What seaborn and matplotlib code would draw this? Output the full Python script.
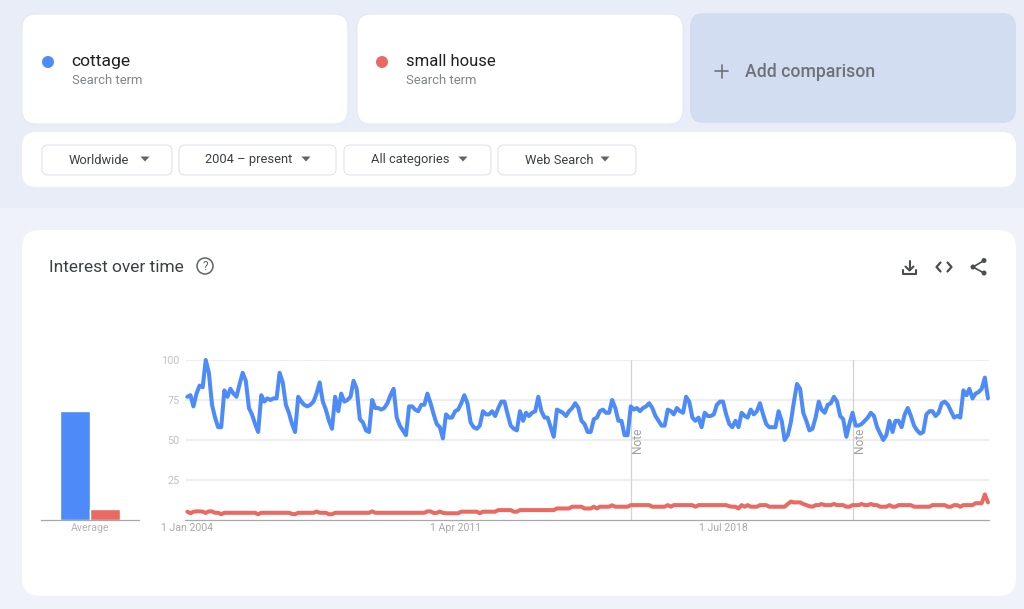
import numpy as np
import pandas as pd
import matplotlib.pyplot as plt
from matplotlib.patches import FancyBboxPatch, Circle, Polygon, Rectangle
import seaborn as sns

# valores, un renglon por año (2004 - sep 2025)
cottage = [
    77, 78, 71, 79, 84, 83, 100, 92, 72, 64, 58, 58,
    81, 77, 82, 79, 77, 85, 92, 87, 70, 66, 60, 55,
    78, 74, 76, 75, 76, 76, 92, 86, 72, 67, 60, 55,
    77, 74, 72, 71, 72, 74, 79, 86, 74, 69, 62, 57,
    77, 68, 79, 74, 75, 77, 87, 82, 63, 61, 56, 55,
    75, 70, 70, 69, 70, 73, 78, 82, 64, 59, 56, 53,
    71, 71, 69, 68, 72, 72, 79, 73, 66, 60, 58, 51,
    66, 64, 64, 68, 69, 73, 78, 73, 61, 58, 57, 59,
    68, 66, 66, 68, 65, 70, 74, 74, 66, 59, 57, 56,
    68, 62, 67, 65, 67, 68, 77, 68, 64, 64, 58, 52,
    69, 68, 67, 65, 68, 70, 73, 70, 62, 60, 55, 55,
    63, 64, 68, 69, 67, 67, 75, 70, 62, 62, 53, 53,
    71, 69, 70, 68, 70, 71, 73, 70, 65, 62, 59, 59,
    69, 68, 66, 70, 68, 67, 77, 74, 64, 62, 64, 58,
    67, 65, 65, 66, 72, 74, 74, 66, 60, 58, 62, 58,
    67, 65, 64, 69, 66, 68, 73, 66, 60, 58, 58, 58,
    68, 62, 50, 53, 61, 74, 85, 82, 67, 62, 56, 57,
    64, 74, 69, 67, 72, 73, 77, 74, 65, 63, 52, 60,
    67, 59, 59, 60, 62, 64, 67, 65, 58, 54, 50, 53,
    62, 55, 62, 62, 58, 66, 70, 65, 59, 56, 54, 55,
    66, 68, 68, 65, 67, 73, 74, 72, 68, 64, 65, 64,
    81, 78, 82, 76, 79, 80, 82, 89, 76,
]
small_house = [
    5.2, 4.2, 5.2, 5.4, 5.4, 5.2, 4.4, 5.4, 5.4, 4.5, 4.5, 3.6,
    4.5, 4.5, 4.5, 4.5, 4.5, 4.5, 4.5, 4.5, 4.5, 4.5, 4.5, 3.6,
    4.5, 4.5, 4.5, 4.5, 4.5, 4.5, 4.5, 4.5, 4.5, 4.5, 3.8, 3.6,
    4.5, 4.5, 4.5, 4.5, 4.5, 4.5, 5.3, 4.5, 4.5, 4.5, 3.6, 3.6,
    4.5, 4.5, 4.5, 4.5, 4.5, 4.5, 4.5, 4.5, 4.5, 4.5, 4.5, 4.5,
    5.4, 4.5, 4.5, 4.5, 4.5, 4.5, 4.5, 4.5, 4.5, 4.5, 4.5, 4.5,
    4.5, 4.5, 4.5, 4.5, 4.5, 4.5, 5.4, 5.4, 4.4, 4.4, 5.3, 4.5,
    4.2, 4.2, 4.2, 4.2, 4.2, 5.2, 5.2, 5.2, 5.2, 5.2, 5.2, 4.2,
    5.2, 5.2, 5.2, 5.2, 5.2, 6.2, 6.2, 6.2, 6.2, 6.2, 5.2, 5.2,
    6.2, 6.2, 6.2, 6.2, 6.2, 6.2, 6.2, 6.2, 6.2, 6.2, 6.2, 6.2,
    7.2, 7.2, 7.2, 7.2, 7.2, 8.3, 8.3, 8.3, 8.3, 7.2, 7.2, 7.2,
    8.3, 7.2, 8.3, 8.3, 8.3, 8.3, 9.2, 8.3, 8.3, 8.3, 8.3, 8.3,
    9.3, 9.3, 9.3, 9.3, 9.3, 9.3, 9.3, 8.3, 8.3, 8.3, 8.3, 8.3,
    9.3, 8.3, 9.3, 9.3, 9.3, 9.3, 9.3, 9.3, 9.3, 8.3, 9.3, 9.3,
    9.3, 9.3, 9.3, 9.3, 9.3, 9.3, 9.3, 9.3, 8.6, 8.3, 8.3, 7.2,
    9.3, 8.3, 9.3, 8.3, 8.3, 8.3, 9.3, 9.3, 9.3, 8.3, 8.3, 8.3,
    8.3, 8.3, 8.3, 10, 11.5, 11, 11, 11, 10, 9.3, 8.6, 8.3,
    9.3, 9.3, 10, 9.3, 9.3, 9.3, 10, 9.3, 9.3, 9.3, 8.3, 8.3,
    9.3, 9.3, 9.3, 10, 9.3, 9.3, 10, 9.3, 9.3, 8.3, 8.3, 8.3,
    9.3, 8.3, 8.3, 9.3, 9.3, 9.3, 9.3, 9.3, 8.3, 8.3, 8.3, 8.3,
    8.3, 8.3, 9.3, 9.3, 9.3, 9.3, 9.3, 8.3, 8.3, 9.3, 9.3, 8.3,
    9.3, 9.3, 9.3, 9.3, 10.5, 10.5, 10.5, 16, 11,
]
terms = ["cottage", "small house"]
averages = [68, 7]
y_ticks = [25, 50, 75, 100]
x_tick_dates = ["2004-01-01", "2011-04-01", "2018-07-01"]
x_tick_labels = ["1 Jan 2004", "1 Apr 2011", "1 Jul 2018"]
note_dates = ["2016-01-01", "2022-01-01"]
filters = ["Worldwide", "2004 – present", "All categories", "Web Search"]

BLUE = "#4d8bf9"
RED = "#e96a62"
W, H = 1024, 609

sns.set_theme(style="white")
plt.rcParams['font.family'] = ['Roboto', 'DejaVu Sans']

fig = plt.figure(figsize=(W / 100, H / 100), dpi=100, facecolor="#eff3f9")


def px_axes(left, top, right, bottom):
    # ejes colocados en pixeles de la captura
    return fig.add_axes([left / W, 1 - bottom / H, (right - left) / W, (bottom - top) / H])


# --- capa de interfaz ---
ui = fig.add_axes([0, 0, 1, 1], zorder=0)
ui.set_xlim(0, W)
ui.set_ylim(H, 0)
ui.axis("off")


def card(x0, y0, x1, y1, color="white", r=14, edge="none"):
    ui.add_patch(FancyBboxPatch((x0 + r, y0 + r), x1 - x0 - 2 * r, y1 - y0 - 2 * r,
                                boxstyle=f"round,pad={r},rounding_size={r}",
                                fc=color, ec=edge, lw=0.8))


ui.add_patch(Rectangle((0, 0), W, 208, fc="#e8edf7", ec="none"))
card(22, 14, 348, 124, edge="#e4e8f0")
card(357, 14, 683, 124, edge="#e4e8f0")
card(690, 13, 1016, 123, color="#d2ddf1")
card(22, 132, 1016, 187)
card(22, 230, 1016, 596, r=18)

for x_dot, x_txt, term, size, col in zip([48, 382], [71.5, 406.5], terms, [12.6, 12.0], [BLUE, RED]):
    ui.add_patch(Circle((x_dot, 62), 6, fc=col, ec="none"))
    ui.text(x_txt, 61.5, term, fontsize=size, color="#202124", va="center")
    ui.text(x_txt, 80.5, "Search term", fontsize=9.4, color="#80868b", va="center")

ui.plot([715, 728], [71, 71], color="#6f7378", lw=1.2)
ui.plot([721.5, 721.5], [64.5, 77.5], color="#6f7378", lw=1.2)
ui.text(745, 72, "Add comparison", fontsize=12.7, color="#6f7378", va="center", fontweight="medium")

chips = [(42, 172, 69, 145), (179, 336, 205, 306), (344, 491, 371, 463), (498, 636, 525, 605)]
for (x0, x1, x_txt, x_arrow), label in zip(chips, filters):
    card(x0, 145, x1, 175, r=6, edge="#e0e3e8")
    ui.text(x_txt, 160, label, fontsize=9.3, color="#3c4043", va="center")
    ui.add_patch(Polygon([(x_arrow - 4.5, 156.5), (x_arrow + 4.5, 156.5), (x_arrow, 161.5)],
                         fc="#5f6368", ec="none"))

ui.text(49, 267.5, "Interest over time", fontsize=12.5, color="#3c4043", va="center")
ui.add_patch(Circle((205, 266), 8, fc="none", ec="#5f6368", lw=1.1))
ui.text(205, 266.5, "?", fontsize=8.5, color="#5f6368", va="center", ha="center")

# iconos: descargar, codigo, compartir
ic = "#4a4d52"
ui.plot([909.5, 909.5], [261, 270], color=ic, lw=1.5)
ui.plot([905.5, 909.5, 913.5], [266.5, 270.5, 266.5], color=ic, lw=1.5)
ui.plot([903, 903, 916, 916], [270, 273.5, 273.5, 270], color=ic, lw=1.5)
ui.plot([940.5, 936.5, 940.5], [262.5, 267, 271.5], color=ic, lw=1.6)
ui.plot([947.5, 951.5, 947.5], [262.5, 267, 271.5], color=ic, lw=1.6)
ui.plot([984, 973, 984], [260.5, 267, 273], color=ic, lw=1.2)
for cx, cy in [(984, 260.5), (973, 267), (984, 273)]:
    ui.add_patch(Circle((cx, cy), 2.5, fc=ic, ec="none"))

# --- barras de la media ---
ax_bar = px_axes(41, 360, 139, 520)
ax_bar.patch.set_alpha(0)
ax_bar.set_zorder(1)
df_avg = pd.DataFrame({"group": ["Average"] * 2, "term": terms, "avg": averages})
sns.barplot(data=df_avg, x="group", y="avg", hue="term", palette=[BLUE, RED], hue_order=terms,
            width=0.608, gap=0, saturation=1, dodge=True, legend=False, ax=ax_bar)
ax_bar.set_xlim(-0.5, 0.5)
ax_bar.set_ylim(0, 100)
ax_bar.set_xlabel("")
ax_bar.set_ylabel("")
ax_bar.set_yticks([])
ax_bar.tick_params(axis="x", length=0, labelsize=7.6, labelcolor="#b4b4b4", pad=2.5)
sns.despine(ax=ax_bar, left=True)
ax_bar.spines["bottom"].set_color("#a8a8a8")
ax_bar.spines["bottom"].set_linewidth(0.9)

# --- serie temporal ---
months = pd.date_range("2004-01-01", periods=len(cottage), freq="MS")
df = pd.DataFrame({"date": months, "cottage": cottage, "small house": small_house})
df_long = df.melt(id_vars="date", var_name="term", value_name="interest")

ax = px_axes(185, 360, 989, 520)
ax.patch.set_alpha(0)
ax.set_zorder(1)
sns.lineplot(data=df_long, x="date", y="interest", hue="term", hue_order=terms,
             palette=[BLUE, RED], linewidth=2.9, errorbar=None, legend=False, ax=ax, clip_on=False)
for line in ax.get_lines():
    line.set_solid_joinstyle("round")

ax.set_xlim(pd.Timestamp("2003-12-09"), pd.Timestamp("2025-09-11"))
ax.set_ylim(0, 100)
ax.set_xlabel("")
ax.set_ylabel("")
ax.set_yticks(y_ticks)
ax.set_xticks(pd.to_datetime(x_tick_dates))
ax.set_xticklabels(x_tick_labels)
ax.grid(axis="y", color="#e9e9e9", lw=1.1)
ax.set_axisbelow(True)
ax.tick_params(axis="x", length=0, labelsize=7.6, labelcolor="#a8a8a8", pad=2.5)
ax.tick_params(axis="y", length=0, labelsize=7.8, labelcolor="#c2c2c2", pad=4)
sns.despine(ax=ax, left=True)
ax.spines["bottom"].set_color("#a8a8a8")
ax.spines["bottom"].set_linewidth(0.9)

for d in pd.to_datetime(note_dates):
    ax.axvline(d, color="#d2d2d2", lw=0.9, zorder=1)
    ax.annotate("Note", (d, 50), xytext=(5.0, 0), textcoords="offset points", rotation=90,
                fontsize=8.6, color="#a0a0a0", ha="center", va="center")

fig.savefig("out.png", dpi=100)
